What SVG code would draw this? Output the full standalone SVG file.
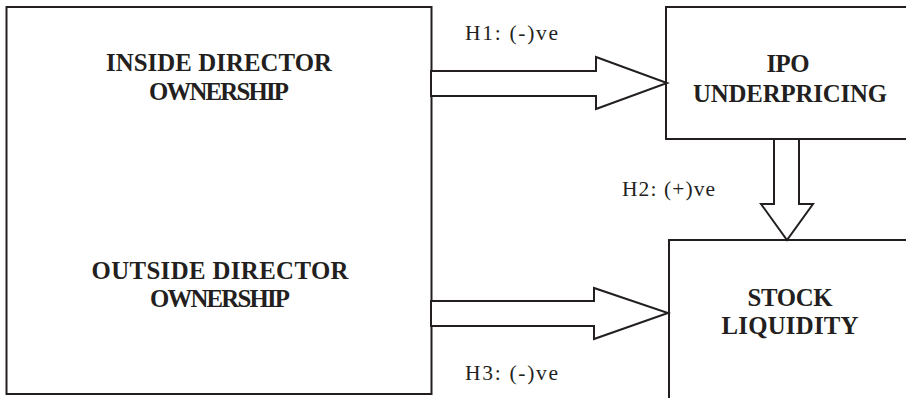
<svg xmlns="http://www.w3.org/2000/svg" width="906" height="398" viewBox="0 0 906 398">
<style>
.box{fill:#fff;stroke:#231f20;stroke-width:2}
.arr{fill:#fff;stroke:#231f20;stroke-width:2;stroke-linejoin:miter}
.t{font-family:"Liberation Serif","Times New Roman",serif;font-weight:bold;font-size:24.8px;fill:#231f20;text-anchor:middle}
.l{font-family:"Liberation Serif","Times New Roman",serif;font-size:21.5px;fill:#231f20}
</style>
<rect width="906" height="398" fill="#fff"/>
<g id="directors">
<rect class="box" x="6.5" y="7" width="425" height="387"/>
<text class="t" x="219" y="71" textLength="226">INSIDE DIRECTOR</text>
<text class="t" x="219" y="100" textLength="140">OWNERSHIP</text>
<text class="t" x="220" y="279" textLength="257">OUTSIDE DIRECTOR</text>
<text class="t" x="220" y="307" textLength="140">OWNERSHIP</text>
</g>
<g id="ipo">
<rect class="box" x="666" y="7" width="260" height="132"/>
<text class="t" x="788" y="72" textLength="43">IPO</text>
<text class="t" x="790" y="102" textLength="194">UNDERPRICING</text>
</g>
<g id="liquidity">
<rect class="box" x="669" y="240" width="260" height="200"/>
<text class="t" x="790" y="306" textLength="85">STOCK</text>
<text class="t" x="790" y="334" textLength="137">LIQUIDITY</text>
</g>
<g id="connectors">
<polygon class="arr" points="431,71 596,71 596,57 667,83 596,109 596,96 431,96"/>
<polygon class="arr" points="431,301 594,301 594,288 668,313 594,339 594,326 431,326"/>
<polygon class="arr" points="774,139 774,204 761,204 787,240 813,204 799,204 799,139"/>
<text class="l" x="465" y="40" textLength="93">H1: (-)ve</text>
<text class="l" x="622" y="196" textLength="93">H2: (+)ve</text>
<text class="l" x="465" y="380" textLength="93">H3: (-)ve</text>
</g>
</svg>
